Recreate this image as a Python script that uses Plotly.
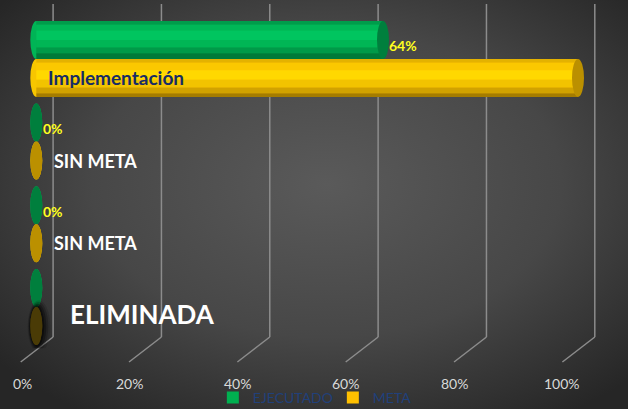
import base64
import plotly.graph_objects as go

# ---------------- data ----------------
categories = ["Implementación", "SIN META 1", "SIN META 2", "ELIMINADA"]
meta_labels = ["Implementación", "SIN META", "SIN META", "ELIMINADA"]
ejecutado = [64, 0, 0, 0]
meta = [100, 0, 0, 0]
tick_values = [0, 20, 40, 60, 80, 100]
tick_labels = ["0%", "20%", "40%", "60%", "80%", "100%"]

# ---------------- style ----------------
W, H = 628, 409
BAR_T = 0.4595              # bar thickness (category units)
CAP_PX = 6                  # half width of the cylinder end ellipse (px)
FONT = "Lato, 'Open Sans', sans-serif"

series = [
    dict(name="EJECUTADO", values=ejecutado, offset=-BAR_T, legend_color="#00b050",
         cap="#007f3d", left="#00b456",
         bands=[(0.00, 0.10, "#009c4b"), (0.10, 0.25, "#00b757"), (0.25, 0.50, "#00c55f"),
                (0.50, 0.70, "#00b655"), (0.70, 0.85, "#009a48"), (0.85, 1.00, "#007a39")]),
    dict(name="META", values=meta, offset=0.0, legend_color="#ffc000",
         cap="#bb9000", left="#f7c600",
         bands=[(0.00, 0.10, "#e4b200"), (0.10, 0.30, "#fbc800"), (0.30, 0.55, "#ffd800"),
                (0.55, 0.75, "#f2c300"), (0.75, 0.90, "#d1a200"), (0.90, 1.00, "#a47c00")]),
]

fig = go.Figure()
idx = list(range(len(categories)))

for s in series:
    # base bar (legend entry)
    fig.add_trace(go.Bar(
        y=categories, x=s["values"], orientation="h", name=s["name"],
        marker=dict(color=s["legend_color"], line=dict(width=0)),
        offset=s["offset"], width=BAR_T, hoverinfo="skip", showlegend=True,
    ))
    # shading bands
    for a, b, col in s["bands"]:
        fig.add_trace(go.Bar(
            y=categories, x=s["values"], orientation="h", name=s["name"],
            marker=dict(color=col, line=dict(width=0)),
            offset=s["offset"] + a * BAR_T, width=(b - a) * BAR_T,
            hoverinfo="skip", showlegend=False,
        ))

shapes = []
# gridlines (back wall + floor diagonal)
BACK_SHIFT, FRONT_SHIFT = 16.8, -15.6
y_top, y_wall, y_front = 1 - 4 / H, 1 - 337 / H, 1 - 362 / H
for v in tick_values:
    shapes.append(dict(type="line", xref="x", xsizemode="pixel", xanchor=v,
                       x0=BACK_SHIFT, x1=BACK_SHIFT, yref="paper", y0=y_wall, y1=y_top,
                       line=dict(color="#8c8c8c", width=1.5), layer="below"))
    shapes.append(dict(type="line", xref="x", xsizemode="pixel", xanchor=v,
                       x0=BACK_SHIFT, x1=FRONT_SHIFT, yref="paper", y0=y_wall, y1=y_front,
                       line=dict(color="#8c8c8c", width=1.5), layer="below"))

# cylinder caps
for s in series:
    for i, v in zip(idx, s["values"]):
        y0 = i + s["offset"]
        y1 = y0 + BAR_T
        shapes.append(dict(type="circle", xref="x", xsizemode="pixel", xanchor=0,
                           x0=-CAP_PX, x1=CAP_PX, yref="y", y0=y0, y1=y1,
                           fillcolor=s["left"], line=dict(width=0), layer="below"))
        cap_col = s["cap"]
        if s["name"] == "META" and meta_labels[i] == "ELIMINADA":
            cap_col = "#4a3b06"
            for k, op in ((8, 0.12), (6, 0.2), (4, 0.3), (2, 0.4)):
                shapes.append(dict(type="circle", xref="x", xsizemode="pixel", xanchor=v,
                                   x0=-CAP_PX - k / 3, x1=CAP_PX + k, yref="y",
                                   y0=y0 - 0.01 * k, y1=y1 + 0.012 * k,
                                   fillcolor=f"rgba(0,0,0,{op})", line=dict(width=0), layer="above"))
        shapes.append(dict(type="circle", xref="x", xsizemode="pixel", xanchor=v,
                           x0=-CAP_PX, x1=CAP_PX, yref="y", y0=y0, y1=y1,
                           fillcolor=cap_col, line=dict(width=0), layer="above"))

annotations = []
# value labels for EJECUTADO (none shown for eliminated items)
for i, v in zip(idx, ejecutado):
    if meta_labels[i] == "ELIMINADA":
        continue
    annotations.append(dict(x=v, y=i - BAR_T / 2, xref="x", yref="y", text=f"{v:.0f}%",
                            showarrow=False, xanchor="left", yanchor="middle",
                            xshift=CAP_PX - 1.5, yshift=-6,
                            font=dict(family=FONT, size=14, color="#ffff1f", weight="bold")))
# category labels on META bars
label_style = {
    "Implementación": dict(size=19, color="#172c66", xshift=9.5, yshift=0),
    "SIN META": dict(size=18, color="#ffffff", xshift=15.5, yshift=0),
    "ELIMINADA": dict(size=26, color="#ffffff", xshift=32, yshift=12),
}
for i, lab in zip(idx, meta_labels):
    st = label_style[lab]
    annotations.append(dict(x=0, y=i + BAR_T / 2, xref="x", yref="y", text=lab,
                            showarrow=False, xanchor="left", yanchor="middle",
                            xshift=st["xshift"], yshift=st["yshift"],
                            font=dict(family=FONT, size=st["size"], color=st["color"], weight="bold")))
# axis tick labels on the front edge
for v, t in zip(tick_values, tick_labels):
    annotations.append(dict(x=v, y=1 - 383 / H, xref="x", yref="paper", text=t,
                            showarrow=False, xanchor="center", yanchor="middle",
                            xshift=FRONT_SHIFT + (2 if v == 0 else 0),
                            font=dict(family=FONT, size=14, color="#d9d9d9")))

svg = (f"<svg xmlns='http://www.w3.org/2000/svg' width='{W}' height='{H}'>"
       "<defs><radialGradient id='g' cx='52%' cy='45%' r='68%'>"
       "<stop offset='0' stop-color='#5a5a5a'/><stop offset='0.55' stop-color='#474747'/>"
       "<stop offset='1' stop-color='#262626'/></radialGradient></defs>"
       f"<rect width='{W}' height='{H}' fill='url(#g)'/></svg>")
bg = "data:image/svg+xml;base64," + base64.b64encode(svg.encode()).decode()

px_per_unit = 5.417
x_zero_px = 36.3
fig.update_layout(
    width=W, height=H, barmode="overlay",
    margin=dict(l=0, r=0, t=0, b=0, autoexpand=False),
    paper_bgcolor="#2a2a2a", plot_bgcolor="rgba(0,0,0,0)",
    images=[dict(source=bg, xref="paper", yref="paper", x=0, y=1, sizex=1, sizey=1,
                 sizing="stretch", xanchor="left", yanchor="top", layer="below")],
    xaxis=dict(range=[-x_zero_px / px_per_unit, (W - x_zero_px) / px_per_unit],
               visible=False, fixedrange=True),
    yaxis=dict(type="category", categoryorder="array", categoryarray=categories,
               range=[len(categories) - 0.5, -0.5], visible=False,
               domain=[1 - 348.3 / H, 1 - 17.6 / H], fixedrange=True),
    shapes=shapes, annotations=annotations,
    showlegend=True,
    legend=dict(orientation="h", x=0.530, xanchor="center", y=1 - 398 / H, yanchor="middle",
                traceorder="normal", bgcolor="rgba(0,0,0,0)", entrywidth=75,
                font=dict(family=FONT, size=14, color="#21407a")),
)

fig.write_html("out.html", config={"displayModeBar": False},
               post_script="document.body.style.margin='0';document.body.style.overflow='hidden';")
